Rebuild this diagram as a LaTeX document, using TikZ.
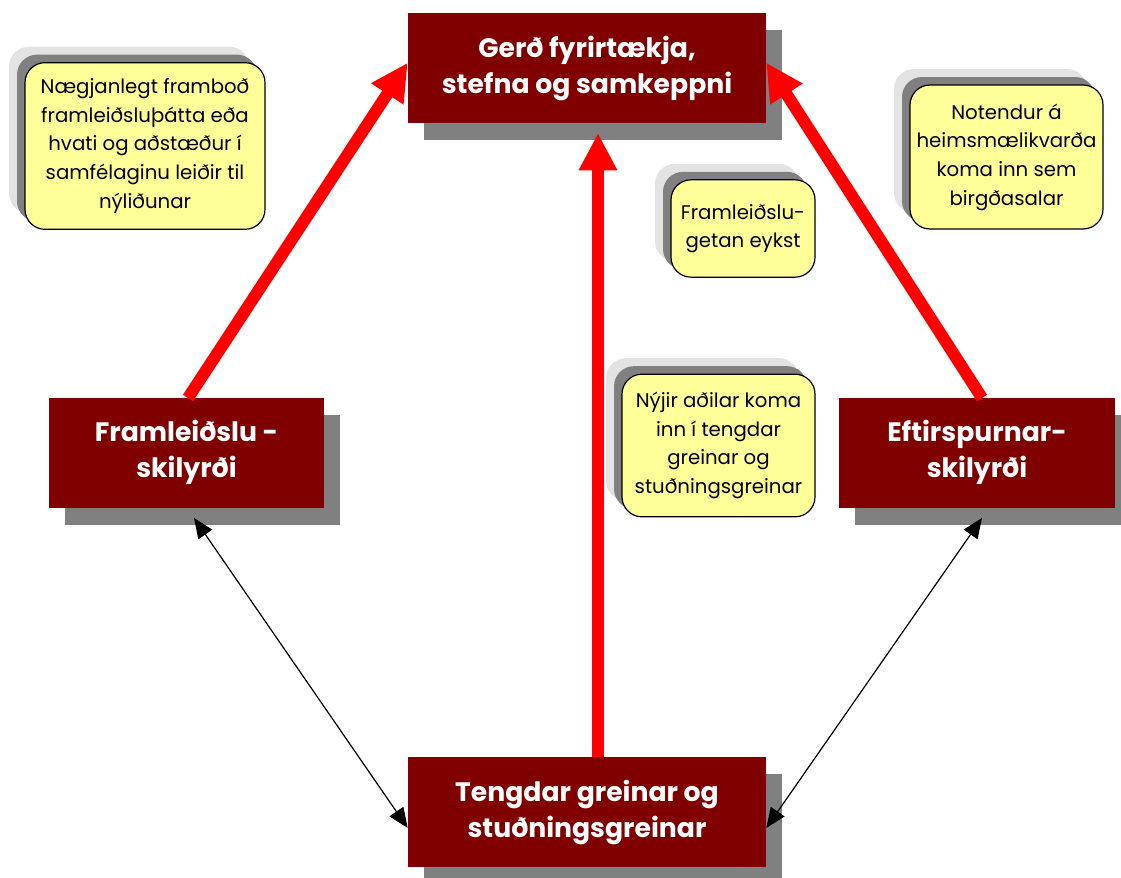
\documentclass[tikz,border=0pt]{standalone}
\usepackage{fontspec}
\setmainfont{Poppins}
\usetikzlibrary{arrows.meta,shadows,calc}
\definecolor{boxred}{HTML}{800000}
\definecolor{shgray}{HTML}{808080}
\definecolor{lightsh}{HTML}{E3E3E3}
\definecolor{noteyellow}{HTML}{FFFF99}
\tikzset{
  mainbox/.style={fill=boxred, text=white, font=\fontsize{20}{27}\selectfont\bfseries,
    align=center, minimum height=82.5pt, inner sep=0pt,
    drop shadow={shadow xshift=12pt, shadow yshift=-12.75pt, fill=shgray, opacity=1}},
  note/.style={fill=noteyellow, draw=black, line width=0.9pt, rounded corners=15pt,
    font=\fontsize{14.8}{21.5}\selectfont, align=center, inner sep=0pt,
    drop shadow={shadow xshift=-12pt, shadow yshift=12pt, fill=lightsh, opacity=1, draw=none},
    drop shadow={shadow xshift=-6pt, shadow yshift=6pt, fill=shgray, opacity=1, draw=none}},
  redarrow/.style={draw=red, line width=9pt, -{Triangle[length=28pt,width=27pt]}},
  blackarrow/.style={draw=black, line width=0.9pt, {Triangle[length=15pt,width=12.5pt]}-{Triangle[length=15pt,width=12.5pt]}}
}
\begin{document}
\begin{tikzpicture}[x=0.75pt,y=-0.75pt]
\useasboundingbox (0,0) rectangle (1121,878);
% main boxes
\node[mainbox, minimum width=268.5pt] (top) at (587,68) {Gerð fyrirtækja,\\stefna og samkeppni};
\node[mainbox, minimum width=206.25pt] (left) at (186.5,452.5) {Framleiðslu -\\skilyrði};
\node[mainbox, minimum width=207pt] (right) at (977,452.5) {Eftirspurnar-\\skilyrði};
\node[mainbox, minimum width=268.5pt] (bot) at (587,812) {Tengdar greinar og\\stuðningsgreinar};
% notes
\node[note, minimum width=180pt, minimum height=125pt] (n1) at (145,146) {Nægjanlegt framboð\\framleiðsluþátta eða\\hvati og aðstæður í\\samfélaginu leiðir til\\nýliðunar};
\node[note, minimum width=108pt, minimum height=73pt] (n2) at (743,228.5) {Framleiðslu-\\getan eykst};
\node[note, minimum width=144.75pt, minimum height=107pt] (n3) at (718.5,445.5) {Nýjir aðilar koma\\inn í tengdar\\greinar og\\stuðningsgreinar};
\node[note, minimum width=144.75pt, minimum height=108pt] (n4) at (1006.5,157) {Notendur á\\heimsmælikvarða\\koma inn sem\\birgðasalar};
% coordinates
\coordinate (ls) at (188,398);
\coordinate (rs) at (982,398);
\coordinate (cs) at (598,757);
\coordinate (ct) at (598,133);
\coordinate (lb) at (194,518);
\coordinate (rb) at (982,518);
% red arrows
\draw[redarrow] (ls) -- ([yshift=4pt]top.west);
\draw[redarrow] (rs) -- ([yshift=4pt]top.east);
\draw[redarrow] (cs) -- (ct);
% black arrows
\draw[blackarrow] (lb) -- ([yshift=-12pt]bot.west);
\draw[blackarrow] (rb) -- ([yshift=-12pt]bot.east);
\end{tikzpicture}
\end{document}
